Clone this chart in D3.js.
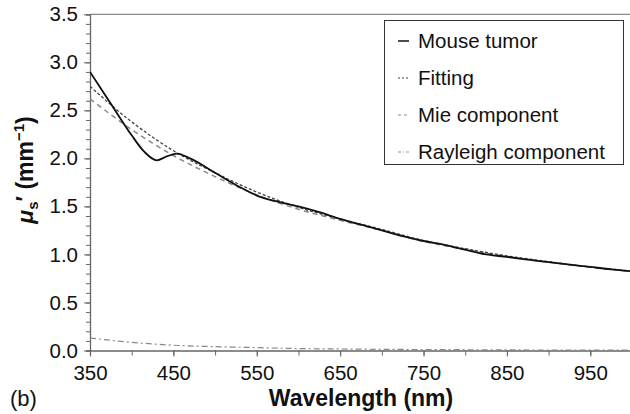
<!DOCTYPE html>
<html><head><meta charset="utf-8">
<script src="https://cdn.jsdelivr.net/npm/d3@7"></script>
<style>
body{margin:0;background:#fff;}
svg{display:block;font-family:"Liberation Sans",Arial,sans-serif;}
</style></head>
<body>
<svg id="c" width="630" height="414"></svg>
<script>
const wavelengths = [350,375,400,415,430,442,454,470,500,530,554,575,600,625,650,675,700,725,750,775,800,825,850,875,900,925,950,975,1000];
const mouseTumor = [2.90,2.57,2.24,2.07,1.98,2.02,2.05,2.00,1.85,1.70,1.60,1.55,1.50,1.44,1.37,1.31,1.25,1.19,1.14,1.10,1.05,1.00,0.975,0.945,0.92,0.895,0.87,0.845,0.825];
const fitWl = [350,400,450,500,550,600,650,700,750,800,850,900,950,1000];
const fitting = [2.75,2.38,2.08,1.85,1.65,1.49,1.37,1.26,1.145,1.06,0.985,0.925,0.87,0.825];
const mie = [2.62,2.30,2.03,1.81,1.62,1.47,1.355,1.25,1.135,1.052,0.979,0.92,0.866,0.822];
const rayleigh = [0.13,0.085,0.055,0.04,0.03,0.02,0.016,0.012,0.010,0.008,0.006,0.005,0.004,0.003];
const xTicks = [350,450,550,650,750,850,950];
const yTicks = [0,0.5,1.0,1.5,2.0,2.5,3.0,3.5];
const legendLabels = ["Mouse tumor","Fitting","Mie component","Rayleigh component"];

const svg = d3.select("#c");
const x = d3.scaleLinear().domain([350,1000]).range([90,632]);
const y = d3.scaleLinear().domain([0,3.5]).range([350.5,14.3]);
const axisCol = "#666";
const FONT = "Liberation Sans, Arial, sans-serif";

// top border
svg.append("line").attr("x1",90).attr("x2",632).attr("y1",y(3.5)).attr("y2",y(3.5)).attr("stroke","#888").attr("stroke-width",1.2);

// y axis
const yMinor = d3.range(0,36).map(i=>i/10);
const ya = svg.append("g").attr("transform","translate(90,0)");
ya.call(d3.axisLeft(y).tickValues(yMinor).tickSize(4).tickFormat(""));
ya.selectAll("line").attr("stroke",axisCol);
ya.select(".domain").attr("stroke",axisCol).attr("stroke-width",1.3);
const ya2 = svg.append("g").attr("transform","translate(90,0)");
ya2.call(d3.axisLeft(y).tickValues(yTicks).tickSize(6).tickPadding(6).tickFormat(d3.format(".1f")));
ya2.select(".domain").remove();
ya2.selectAll("line").attr("stroke",axisCol);
ya2.selectAll("text").attr("font-size",20.5).attr("fill","#111").attr("font-family",FONT);

// x axis
const xMinor = d3.range(350,1001,50);
const xa = svg.append("g").attr("transform",`translate(0,${y(0)})`);
xa.call(d3.axisBottom(x).tickValues(xMinor).tickSize(5).tickFormat(""));
xa.selectAll("line").attr("stroke",axisCol);
xa.select(".domain").attr("stroke",axisCol).attr("stroke-width",1.3);
const xa2 = svg.append("g").attr("transform",`translate(0,${y(0)})`);
xa2.call(d3.axisBottom(x).tickValues(xTicks).tickSize(6).tickPadding(9).tickFormat(d3.format("d")));
xa2.select(".domain").remove();
xa2.selectAll("line").attr("stroke",axisCol);
xa2.selectAll("text").attr("font-size",20.5).attr("fill","#111").attr("font-family",FONT);

// lines
const line = d3.line().x(d=>x(d[0])).y(d=>y(d[1])).curve(d3.curveMonotoneX);
svg.append("clipPath").attr("id","pc").append("rect").attr("x",90).attr("y",10).attr("width",545).attr("height",341);
const pg = svg.append("g").attr("clip-path","url(#pc)");
pg.append("path").datum(fitWl.map((w,i)=>[w,rayleigh[i]])).attr("d",line).attr("fill","none").attr("stroke","#888").attr("stroke-width",1.2).attr("stroke-dasharray","6,3,2,3");
pg.append("path").datum(fitWl.map((w,i)=>[w,mie[i]])).attr("d",line).attr("fill","none").attr("stroke","#888").attr("stroke-width",1.5).attr("stroke-dasharray","5,4");
pg.append("path").datum(fitWl.map((w,i)=>[w,fitting[i]])).attr("d",line).attr("fill","none").attr("stroke","#444").attr("stroke-width",1.3).attr("stroke-dasharray","3,2");
pg.append("path").datum(wavelengths.map((w,i)=>[w,mouseTumor[i]])).attr("d",line).attr("fill","none").attr("stroke","#111").attr("stroke-width",1.8);

// legend
const lg = svg.append("g");
lg.append("rect").attr("x",384.5).attr("y",20.5).attr("width",239).attr("height",144).attr("fill","#fff").attr("stroke","#333").attr("stroke-width",1);
const styles = [
  {stroke:"#111",dash:null,w:1.5},
  {stroke:"#444",dash:"2,2",w:1.2},
  {stroke:"#888",dash:"3,3",w:1.2},
  {stroke:"#999",dash:"3,2,1,2",w:1.2}
];
legendLabels.forEach((t,i)=>{
  const cy = 41 + i*37;
  lg.append("line").attr("x1",398).attr("x2",409).attr("y1",cy).attr("y2",cy)
    .attr("stroke",styles[i].stroke).attr("stroke-width",styles[i].w).attr("stroke-dasharray",styles[i].dash);
  lg.append("text").attr("x",418).attr("y",cy).attr("dy","0.36em").attr("font-size",20.5).attr("fill","#111").text(t);
});

// axis titles
svg.append("text").attr("x",361).attr("y",406).attr("text-anchor","middle").attr("font-size",23).attr("font-weight","bold").attr("fill","#111").text("Wavelength (nm)");
svg.append("text").attr("x",10).attr("y",406).attr("font-size",22).attr("fill","#111").text("(b)");
const yt = svg.append("text").attr("transform","translate(33,170) rotate(-90)").attr("text-anchor","middle").attr("font-size",23).attr("font-weight","bold").attr("fill","#111");
yt.append("tspan").attr("font-style","italic").text("μ");
yt.append("tspan").attr("font-size",15).attr("dy",5).text("s");
yt.append("tspan").attr("dy",-5).text("′ (mm");
yt.append("tspan").attr("font-size",15).attr("dy",-9).text("−1");
yt.append("tspan").attr("dy",9).text(")");
</script>
</body></html>
